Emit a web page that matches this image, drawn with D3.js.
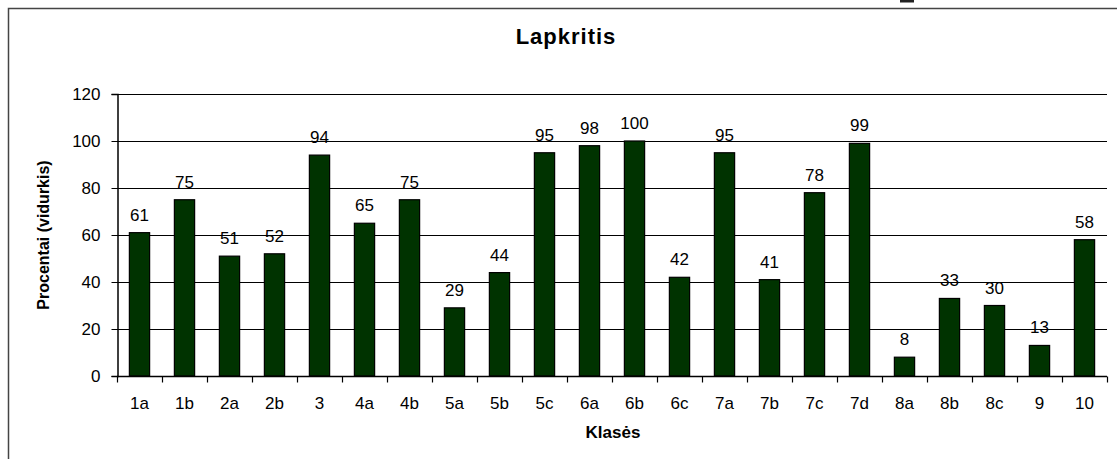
<!DOCTYPE html>
<html>
<head>
<meta charset="utf-8">
<script src="https://cdn.jsdelivr.net/npm/d3@7"></script>
<style>
  body { margin: 0; background: #fff; }
  svg { display: block; font-family: "Liberation Sans", Arial, sans-serif; }
</style>
</head>
<body>
<div id="chart"></div>
<script>
const classes = ["1a", "1b", "2a", "2b", "3", "4a", "4b", "5a", "5b", "5c", "6a", "6b", "6c", "7a", "7b", "7c", "7d", "8a", "8b", "8c", "9", "10"];
const percents = [61, 75, 51, 52, 94, 65, 75, 29, 44, 95, 98, 100, 42, 95, 41, 78, 99, 8, 33, 30, 13, 58];
const yTicks = [0, 20, 40, 60, 80, 100, 120];

const W = 1117, H = 459;
const plotLeft = 117, plotRight = 1107, plotTop = 94, plotBottom = 376;

const svg = d3.select("#chart").append("svg")
  .attr("width", W)
  .attr("height", H);

// outer chart frame (runs off the right and bottom edge)
svg.append("rect")
  .attr("x", 8.5).attr("y", 8.5)
  .attr("width", W + 20).attr("height", H + 20)
  .attr("fill", "none").attr("stroke", "#444").attr("stroke-width", 1.5);

// stray mark at the top edge
svg.append("rect")
  .attr("x", 900).attr("y", 0).attr("width", 14).attr("height", 2.5)
  .attr("fill", "#222");

const x = d3.scaleBand()
  .domain(classes)
  .range([plotLeft, plotRight])
  .paddingInner(0.55)
  .paddingOuter(0.275);

const y = d3.scaleLinear()
  .domain([0, 120])
  .range([plotBottom, plotTop]);

// gridlines
svg.append("g")
  .selectAll("line")
  .data(yTicks.filter(d => d > 0))
  .enter()
  .append("line")
  .attr("x1", plotLeft).attr("x2", plotRight)
  .attr("y1", d => Math.round(y(d)) + 0.5)
  .attr("y2", d => Math.round(y(d)) + 0.5)
  .attr("stroke", "#000").attr("stroke-width", 1);

// bars
svg.append("g")
  .selectAll("rect")
  .data(percents)
  .enter()
  .append("rect")
  .attr("x", (d, i) => x(classes[i]))
  .attr("y", d => y(d))
  .attr("width", x.bandwidth())
  .attr("height", d => plotBottom - y(d))
  .attr("fill", "#003300")
  .attr("stroke", "#000")
  .attr("stroke-width", 1.2);

// value labels
svg.append("g")
  .selectAll("text")
  .data(percents)
  .enter()
  .append("text")
  .attr("x", (d, i) => x(classes[i]) + x.bandwidth() / 2)
  .attr("y", d => y(d) - 12)
  .attr("text-anchor", "middle")
  .attr("font-size", 17)
  .attr("fill", "#000")
  .text(d => d);

// y axis
const yAxis = svg.append("g")
  .attr("transform", "translate(" + (plotLeft + 0.5) + ",0)")
  .call(d3.axisLeft(y).tickValues(yTicks).tickSize(6).tickPadding(11));
yAxis.select(".domain").attr("stroke", "#000").attr("stroke-width", 1.5);
yAxis.selectAll(".tick line").attr("stroke", "#000");
yAxis.selectAll("text").attr("font-size", 17).attr("font-family", "Liberation Sans, Arial, sans-serif").attr("fill", "#000");

// x axis: ticks at band boundaries
const xAxis = svg.append("g")
  .attr("transform", "translate(0," + (plotBottom + 0.5) + ")");
xAxis.append("line")
  .attr("x1", plotLeft).attr("x2", plotRight)
  .attr("stroke", "#000").attr("stroke-width", 1.5);
const bounds = d3.range(classes.length + 1).map(i => plotLeft + i * x.step());
xAxis.selectAll("line.tk")
  .data(bounds)
  .enter()
  .append("line")
  .attr("class", "tk")
  .attr("x1", d => Math.round(d) + 0.5).attr("x2", d => Math.round(d) + 0.5)
  .attr("y1", 0).attr("y2", 6)
  .attr("stroke", "#000").attr("stroke-width", 1.2);
xAxis.selectAll("text")
  .data(classes)
  .enter()
  .append("text")
  .attr("x", d => x(d) + x.bandwidth() / 2)
  .attr("y", 32)
  .attr("text-anchor", "middle")
  .attr("font-size", 17)
  .attr("fill", "#000")
  .text(d => d);

// title
svg.append("text")
  .attr("x", 566).attr("y", 44)
  .attr("text-anchor", "middle")
  .attr("font-size", 22)
  .attr("font-weight", "bold")
  .attr("letter-spacing", 1)
  .text("Lapkritis");

// axis titles
svg.append("text")
  .attr("x", 613).attr("y", 438)
  .attr("text-anchor", "middle")
  .attr("font-size", 17)
  .attr("font-weight", "bold")
  .text("Klasės");

svg.append("text")
  .attr("transform", "translate(49," + ((plotTop + plotBottom) / 2) + ") rotate(-90)")
  .attr("text-anchor", "middle")
  .attr("font-size", 16)
  .attr("font-weight", "bold")
  .text("Procentai (vidurkis)");
</script>
</body>
</html>
